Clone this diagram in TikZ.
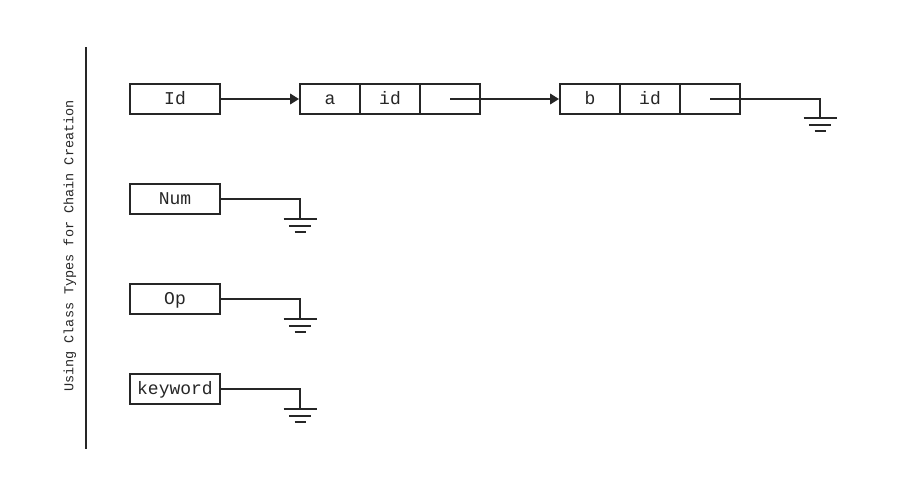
\documentclass[tikz,border=0pt]{standalone}
\usepackage{fontspec}
\setmonofont{Liberation Mono}
\usepackage{xcolor}
\usetikzlibrary{arrows.meta}
\definecolor{ink}{HTML}{262626}

\begin{document}
\begin{tikzpicture}[
    x=0.025cm, y=-0.025cm,
    box/.style={draw=ink, line width=1.4pt, minimum width=2.25cm, minimum height=0.75cm, inner sep=0pt, text height=8.3pt, text depth=0pt, text=ink, font=\ttfamily\fontsize{12.8}{14}\selectfont},
    cell/.style={box, minimum width=1.5cm},
    arr/.style={-{Triangle[length=0.22cm,width=0.26cm]}, line width=1.4pt, draw=ink},
    wire/.style={line width=1.4pt, draw=ink},
    ground/.pic={\draw[wire, line width=1.8pt] (-16.5,0) -- (16.5,0) (-11,7) -- (11,7) (-5.5,13) -- (5.5,13);}
]
    \useasboundingbox (0,0) rectangle (900,494);

    % separator and title
    \draw[ink, line width=2pt] (86,47) -- (86,449);
    \node[rotate=90, text=ink, font=\ttfamily\fontsize{9.6}{11}\selectfont] (title) at (70,246) {Using Class Types for Chain Creation};

    % chain
    \node[box]  (id)    at (175,99) {Id};
    \node[cell] (a)     at (330,99) {a};
    \node[cell] (aid)   at (390,99) {id};
    \node[cell] (anext) at (450,99) {};
    \node[cell] (b)     at (590,99) {b};
    \node[cell] (bid)   at (650,99) {id};
    \node[cell] (bnext) at (710,99) {};
    \coordinate (bgnd) at (820,118);
    \draw[arr] (id) -- (a);
    \draw[arr] (anext.center) -- (b);
    \draw[wire] (bnext.center) -| (bgnd);
    \pic at (bgnd) {ground};

    % the other types
    \foreach \nm/\txt/\y in {num/Num/199, op/Op/299, kw/keyword/389} {
        \node[box] (\nm) at (175,\y) {\txt};
        \coordinate (\nm gnd) at (300,\y+20);
        \draw[wire] (\nm) -| (\nm gnd);
        \pic at (\nm gnd) {ground};
    }
\end{tikzpicture}
\end{document}
